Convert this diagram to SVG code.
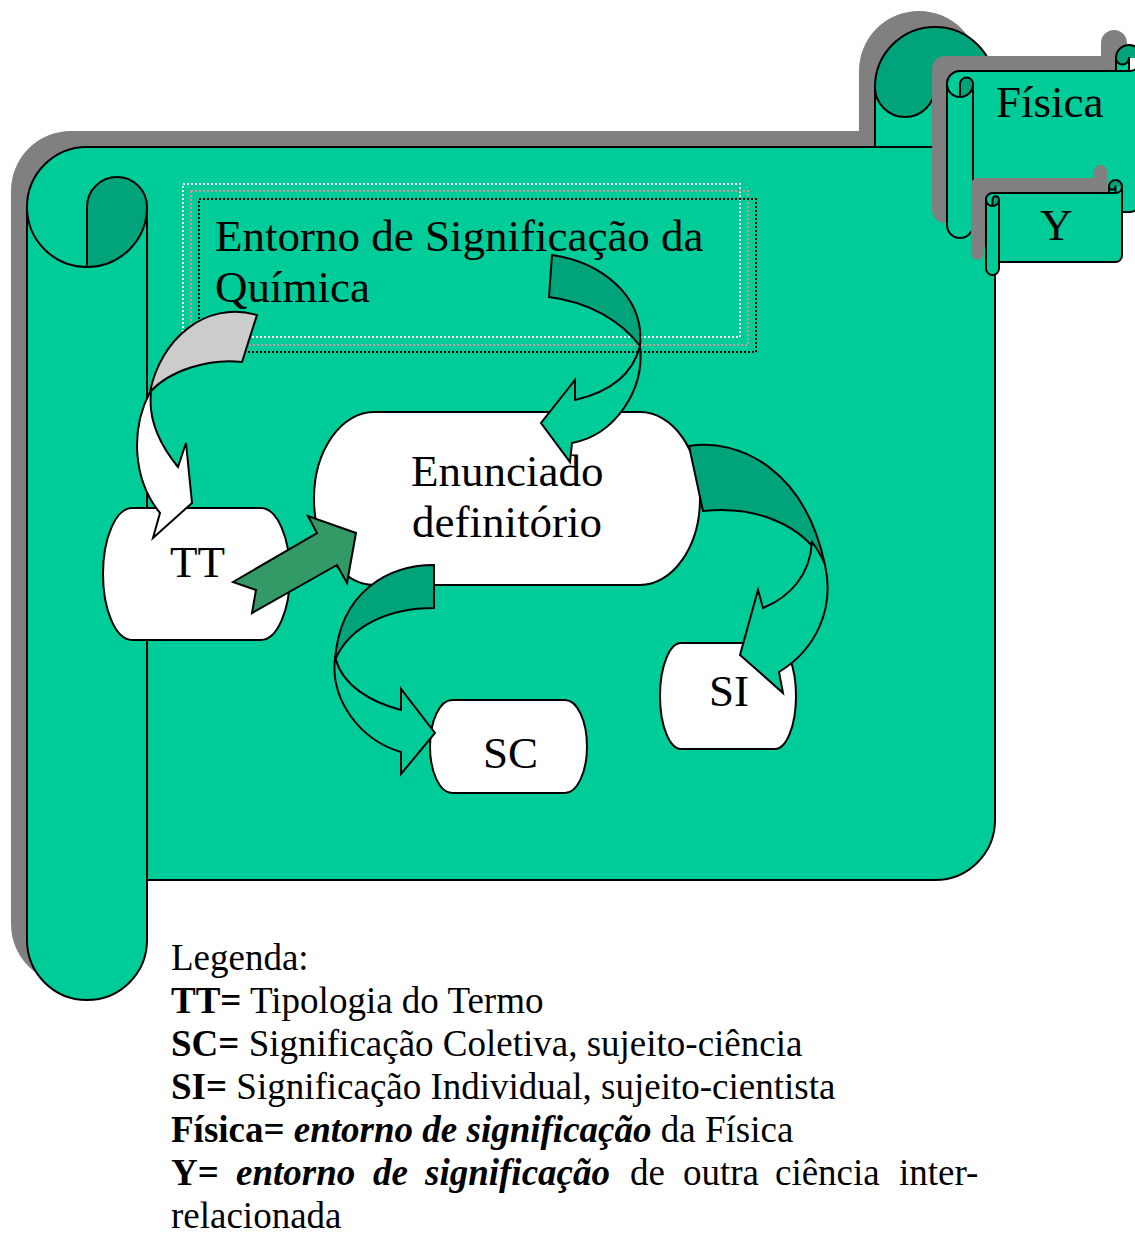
<svg xmlns="http://www.w3.org/2000/svg" width="1135" height="1234" viewBox="0 0 1135 1234">
<defs>
<style>
.ol{fill:none;stroke:#000;stroke-width:2;stroke-linejoin:round}
.lt{fill:#00CC99}
.dk{fill:#00A37A}
.sh{fill:#808080}
.node{fill:#fff;stroke:#000;stroke-width:2}
.t{font-family:"Liberation Serif","Times New Roman",serif;font-size:45px;fill:#000}
.lg{font-family:"Liberation Serif","Times New Roman",serif;font-size:37px;fill:#000}
.arr{stroke:#000;stroke-width:2;stroke-linejoin:miter}
.dot{fill:none;stroke-width:2;stroke-dasharray:2 2}
</style>
<path id="mainShape" d="M27,207 A60 60 0 0 1 87,147 L875,147 L875,87 A60 60 0 0 1 995,87 L995,820 A60 60 0 0 1 935,880 L147,880 L147,940 A60 60 0 0 1 27,940 Z"/>
<path id="fisShape" d="M947,84 A13 13 0 0 1 960,71 L1116,71 L1116,58 A13 13 0 0 1 1142,58 L1142,199 A13 13 0 0 1 1129,212 L973,212 L973,225 A13 13 0 0 1 947,225 Z"/>
<path id="yShape" d="M986,199.5 A6.5 6.5 0 0 1 992.5,193 L1109,193 L1109,186.5 A6.5 6.5 0 0 1 1122,186.5 L1122,255.5 A6.5 6.5 0 0 1 1115.5,262 L999,262 L999,268.5 A6.5 6.5 0 0 1 986,268.5 Z"/>
</defs>

<g id="scroll-main">
<use href="#mainShape" class="sh" transform="translate(-16,-16)"/>
<path class="lt" d="M995,87 A60 60 0 0 1 935,147 L935,87 A30 30 0 0 1 875,87 L875,147 L87,147 A60 60 0 0 0 27,207 L27,940 A60 60 0 0 0 147,940 L147,880 L935,880 A60 60 0 0 0 995,820 Z"/>
<path class="dk" d="M875,87 A60 60 0 0 1 995,87 L935,87 A30 30 0 0 1 875,87 Z"/>
<path class="dk" d="M87,207 A30 30 0 0 1 147,207 A60 60 0 0 1 87,267 Z"/>
<use href="#mainShape" class="ol"/>
<path class="ol" d="M875,147 L935,147 A60 60 0 0 0 995,87 M935,147 L935,87 A30 30 0 0 1 875,87 M87,267 L87,207 A30 30 0 0 1 147,207 A60 60 0 0 1 27,207 M147,207 L147,880"/>
</g>

<g id="scroll-fisica">
<use href="#fisShape" class="sh" transform="translate(-15,-15)"/>
<path class="lt" d="M1142,58 A13 13 0 0 1 1129,71 L1129,58 A6.5 6.5 0 0 1 1116,58 L1116,71 L960,71 A13 13 0 0 0 947,84 L947,225 A13 13 0 0 0 973,225 L973,212 L1129,212 A13 13 0 0 0 1142,199 Z"/>
<path class="dk" d="M1116,58 A13 13 0 0 1 1142,58 L1129,58 A6.5 6.5 0 0 1 1116,58 Z"/>
<path class="dk" d="M960,84 A6.5 6.5 0 0 1 973,84 A13 13 0 0 1 960,97 Z"/>
<use href="#fisShape" class="ol"/>
<path class="ol" d="M1116,71 L1129,71 A13 13 0 0 0 1142,58 M1129,71 L1129,58 A6.5 6.5 0 0 1 1116,58 M960,97 L960,84 A6.5 6.5 0 0 1 973,84 A13 13 0 0 1 947,84 M973,84 L973,212"/>
<text class="t" x="996" y="117">Física</text>
</g>

<g id="scroll-y">
<use href="#yShape" class="sh" transform="translate(-15,-15)"/>
<path class="lt" d="M1122,186.5 A6.5 6.5 0 0 1 1115.5,193 L1115.5,186.5 A3.25 3.25 0 0 1 1109,186.5 L1109,193 L992.5,193 A6.5 6.5 0 0 0 986,199.5 L986,268.5 A6.5 6.5 0 0 0 999,268.5 L999,262 L1115.5,262 A6.5 6.5 0 0 0 1122,255.5 Z"/>
<path class="dk" d="M1109,186.5 A6.5 6.5 0 0 1 1122,186.5 L1115.5,186.5 A3.25 3.25 0 0 1 1109,186.5 Z"/>
<path class="dk" d="M992.5,199.5 A3.25 3.25 0 0 1 999,199.5 A6.5 6.5 0 0 1 992.5,206 Z"/>
<use href="#yShape" class="ol"/>
<path class="ol" d="M1109,193 L1115.5,193 A6.5 6.5 0 0 0 1122,186.5 M1115.5,193 L1115.5,186.5 A3.25 3.25 0 0 1 1109,186.5 M992.5,206 L992.5,199.5 A3.25 3.25 0 0 1 999,199.5 A6.5 6.5 0 0 1 986,199.5 M999,199.5 L999,262"/>
<text class="t" x="1040" y="240">Y</text>
</g>

<g id="title-box">
<rect class="dot" x="183" y="184" width="557" height="153" stroke="#ffffff"/>
<rect class="dot" x="191" y="191" width="557" height="154" stroke="#c49a9a"/>
<rect class="dot" x="199" y="199" width="557" height="153" stroke="#000000"/>
<text class="t" x="215" y="251">Entorno de Significação da</text>
<text class="t" x="215" y="302">Química</text>
</g>

<g id="node-tt">
<path class="node" d="M132,508 L261,508 A29 66 0 0 1 261,640 L132,640 A29 66 0 0 1 132,508 Z"/>
<text class="t" x="170" y="577">TT</text>
</g>

<g id="node-enunciado">
<path class="node" d="M374,412 L640,412 A60 86.5 0 0 1 640,585 L374,585 A60 86.5 0 0 1 374,412 Z"/>
<text class="t" x="411" y="486">Enunciado</text>
<text class="t" x="412" y="537">definitório</text>
</g>

<g id="node-sc">
<path class="node" d="M452,700 L565,700 A22 46.5 0 0 1 565,793 L452,793 A22 46.5 0 0 1 452,700 Z"/>
<text class="t" x="483" y="768">SC</text>
</g>

<g id="node-si">
<path class="node" d="M681,643 L775,643 A21 53 0 0 1 775,749 L681,749 A21 53 0 0 1 681,643 Z"/>
<text class="t" x="709" y="706">SI</text>
</g>

<g id="connectors">
<g id="arrow-to-tt">
<path class="arr" fill="#CCCCCC" d="M257,315 C205,300 160,340 150,392 C170,370 210,358 242,362 Z"/>
<path class="arr" fill="#FFFFFF" d="M150,392 C130,430 133,480 160,513 L153,538 L192,503 L186,443 L178,467 C160,445 148,420 151,393 Z"/>
</g>
<g id="arrow-to-enunciado">
<path class="arr" fill="#00A37A" d="M552,255 C600,262 645,295 640,346 C622,322 590,302 549,297 Z"/>
<path class="arr" fill="#00CC99" d="M640,346 C645,390 615,435 572,443 L570,462 L541,423 L575,380 L575,400 C605,393 632,378 640,346 Z"/>
</g>
<g id="arrow-tt-enunciado">
<path class="arr" fill="#339966" d="M233,582 L317,533 L308,516 L356,533 L347,583 L337,565 L252,613 L256,590 Z"/>
</g>
<g id="arrow-to-si">
<path class="arr" fill="#00A37A" d="M689,446 C740,438 805,470 825,565 C805,525 755,505 703,511 Z"/>
<path class="arr" fill="#00CC99" d="M825,565 C835,610 815,650 779,672 L783,693 L740,655 L758,590 L763,608 C790,597 810,575 812,542 C818,550 822,557 825,565 Z"/>
</g>
<g id="arrow-to-sc">
<path class="arr" fill="#00A37A" d="M434,565 C390,565 340,590 335,660 C350,625 390,608 434,608 Z"/>
<path class="arr" fill="#00CC99" d="M335,658 C330,700 360,740 401,752 L401,774 L435,733 L401,689 L401,710 C370,702 343,685 336,660 Z"/>
</g>
</g>

<g id="legend">
<text class="lg" x="171" y="970">Legenda:</text>
<text class="lg" x="171" y="1013"><tspan font-weight="bold">TT=</tspan> Tipologia do Termo</text>
<text class="lg" x="171" y="1056"><tspan font-weight="bold">SC=</tspan> Significação Coletiva, sujeito-ciência</text>
<text class="lg" x="171" y="1099"><tspan font-weight="bold">SI=</tspan> Significação Individual, sujeito-cientista</text>
<text class="lg" x="171" y="1142"><tspan font-weight="bold">Física=</tspan> <tspan font-weight="bold" font-style="italic">entorno de significação</tspan> da Física</text>
<text class="lg" y="1185"><tspan x="171" font-weight="bold">Y=</tspan><tspan x="236" font-weight="bold" font-style="italic">entorno</tspan><tspan x="373" font-weight="bold" font-style="italic">de</tspan><tspan x="425" font-weight="bold" font-style="italic">significação</tspan><tspan x="630">de</tspan><tspan x="683">outra</tspan><tspan x="775">ciência</tspan><tspan x="899">inter-</tspan></text>
<text class="lg" x="171" y="1228">relacionada</text>
</g>
</svg>
